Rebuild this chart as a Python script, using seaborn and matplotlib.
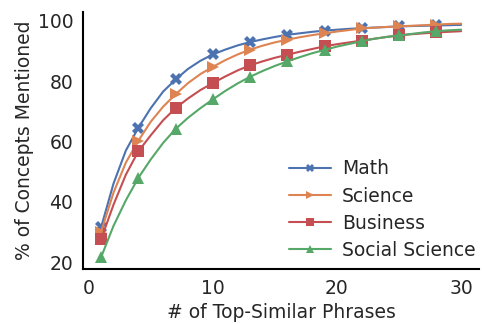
import pandas as pd
import matplotlib.pyplot as plt
import seaborn as sns

# Values (x = 1..30)
phrases = list(range(1, 31))
math = [31.5, 46, 57, 64.5, 71, 76.5, 80.5, 84, 86.7, 88.8,
        90.4, 91.8, 92.9, 93.8, 94.6, 95.3, 95.8, 96.3, 96.7, 97.0,
        97.3, 97.5, 97.7, 97.9, 98.1, 98.2, 98.3, 98.4, 98.5, 98.6]
science = [30, 43, 53, 60.2, 66.5, 71.5, 75.6, 79.3, 82.3, 84.7,
           86.9, 88.8, 90.4, 91.7, 92.8, 93.7, 94.5, 95.2, 95.8, 96.4,
           96.9, 97.4, 97.7, 97.9, 98.1, 98.3, 98.5, 98.7, 98.9, 99.0]
business = [27.5, 39, 49, 56.7, 62, 67, 71, 74.2, 77, 79.3,
            81.5, 83.5, 85.2, 86.5, 87.7, 88.7, 89.7, 90.6, 91.5, 92.2,
            92.8, 93.4, 94.0, 94.6, 95.1, 95.5, 95.8, 96.1, 96.3, 96.5]
social = [21.6, 32, 40.5, 47.9, 54, 59.5, 64.1, 67.8, 71, 73.9,
          76.7, 79.2, 81.4, 83.3, 85, 86.5, 87.9, 89.2, 90.3, 91.4,
          92.3, 93.2, 94.0, 94.6, 95.1, 95.6, 96.1, 96.5, 96.8, 97.0]

domains = ['Math', 'Science', 'Business', 'Social Science']
series = [math, science, business, social]

df = pd.DataFrame({
    'x': phrases * len(domains),
    'y': [v for s in series for v in s],
    'Domain': [d for d in domains for _ in phrases],
})

sns.set_theme(style='white')
plt.rcParams['font.family'] = ['DejaVu Sans']

fig, ax = plt.subplots(figsize=(4.83, 3.24), dpi=100)
fig.subplots_adjust(left=0.172, right=0.992, bottom=0.17, top=0.963)

deep = sns.color_palette('deep')
palette = {'Math': deep[0], 'Science': deep[1],
           'Business': deep[3], 'Social Science': deep[2]}
markers = {'Math': 'X', 'Science': '>', 'Business': 's', 'Social Science': '^'}

sns.lineplot(data=df, x='x', y='y', hue='Domain', style='Domain', palette=palette,
             markers=markers, dashes=False, markevery=3, markersize=8,
             markeredgewidth=0, linewidth=1.5, ax=ax)

ax.set_xticks([0, 10, 20, 30])
ax.set_yticks([20, 40, 60, 80, 100])
ax.tick_params(labelsize=13.5, length=0, pad=7)
ax.set_xlabel('# of Top-Similar Phrases', fontsize=13.5, labelpad=4)
ax.set_ylabel('% of Concepts Mentioned', fontsize=13.5, labelpad=3)
sns.despine(ax=ax)
for side in ['left', 'bottom']:
    ax.spines[side].set_color('black')
    ax.spines[side].set_linewidth(1.5)

leg = ax.legend(title=None, loc='lower right', bbox_to_anchor=(1.0, 0.02),
                frameon=False, fontsize=13.5, handlelength=2.2, labelspacing=0.44,
                borderaxespad=0.0, borderpad=0.2, handletextpad=0.6)
for h in leg.legend_handles:
    h.set_markersize(6)

plt.savefig('out.png')
